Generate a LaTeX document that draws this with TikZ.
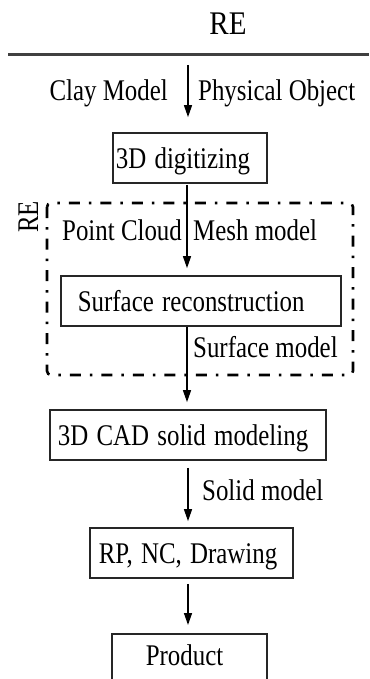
\documentclass[tikz,border=0pt]{standalone}
\usepackage{fontspec}
\setmainfont{Liberation Serif}
\usetikzlibrary{arrows.meta}
\newcommand{\nar}[1]{\scalebox{0.83}[1]{#1}}
\tikzset{
  lbl/.style={inner sep=0pt, font=\fontsize{30}{34}\selectfont},
  box/.style 2 args={draw=black!85, line width=1.7pt, anchor=west,
    font=\fontsize{30}{34}\selectfont, inner xsep=#1, text width=#2,
    align=left, minimum height=50pt, text height=20pt, text depth=0pt},
  arr/.style={line width=1.4pt, -{Triangle[length=12pt,width=8pt]}},
  frame/.style={line width=2.6pt, rounded corners=4pt,
    dash pattern=on 11pt off 9pt on 2.5pt off 9pt},
}
\begin{document}
\begin{tikzpicture}[x=1pt,y=-1pt]
\clip (0,0) rectangle (369,679);
% title and rule
\node[lbl, font=\fontsize{33}{36}\selectfont, anchor=base] (title) at (228,35) {\scalebox{0.88}[1]{RE}};
\coordinate (r1) at (8,55);
\coordinate (r2) at (369,55);
\draw[line width=3pt, black!75] (r1) -- (r2);
% dash-dot frame
\draw[frame] (47,203) rectangle (353,375);
\node[lbl, rotate=90, text height=19pt, text depth=0pt] (re2) at (28.5,217) {\nar{RE}};
% boxes
\node[box={3pt}{148pt}] (dig) at (112,158) {\nar{3D digitizing}};
\node[box={17pt}{246pt}] (rec) at (60,301) {\nar{Surface reconstruction}};
\node[box={8pt}{260pt}] (cad) at (49,435) {\nar{3D CAD solid modeling}};
\node[box={9pt}{185pt}] (rp) at (89,553) {\nar{RP, NC, Drawing}};
\node[draw=black!85, line width=1.7pt, anchor=north west,
  font=\fontsize{30}{34}\selectfont, inner xsep=34pt, text width=87pt,
  align=left, inner ysep=12pt, text height=20pt, text depth=20pt] (prod) at (111,633) {\nar{Product}};
% labels
\node[lbl, anchor=base east] (clay) at (168,101) {\nar{Clay Model}};
\node[lbl, anchor=base west] (phys) at (198,101) {\nar{Physical Object}};
\node[lbl, anchor=base west] (pc) at (62,240) {\nar{Point Cloud}};
\node[lbl, anchor=base west] (mesh) at (193,240) {\nar{Mesh model}};
\node[lbl, anchor=base west] (surf) at (193,357) {\nar{Surface model}};
\node[lbl, anchor=base west] (solid) at (202,500) {\nar{Solid model}};
% arrows
\coordinate (ax) at (187,0);
\coordinate (a0) at (188,65);
\draw[arr, shorten >=15pt] (a0) -- (dig.north -| a0);
\draw[arr, shorten <=1pt, shorten >=7pt] (dig.south -| ax) -- (rec.north -| ax);
\draw[arr, shorten >=7pt] (rec.south -| ax) -- (cad.north -| ax);
\draw[arr, shorten <=7pt, shorten >=6pt] (cad.south -| a0) -- (rp.north -| a0);
\draw[arr, shorten <=5pt, shorten >=8pt] (rp.south -| a0) -- (prod.north -| a0);
\end{tikzpicture}
\end{document}
